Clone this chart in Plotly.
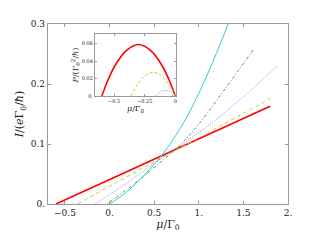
import plotly.graph_objects as go

# Main panel: I vs mu
red_x = [-0.6, 1.8]
red_y = [0.0, 0.163]
yel_x = [-0.36, 0.2, 0.6, 1.12, 1.5, 1.8]
yel_y = [0.0, 0.046, 0.078, 0.12, 0.151, 0.176]
blu_x = [-0.16, 0.2, 0.6, 1.0, 1.4, 1.88]
blu_y = [0.0, 0.036, 0.078, 0.119, 0.166, 0.23]
grn_x = [-0.03, 0.2, 0.47, 0.787, 1.01, 1.3, 1.615]
grn_y = [0.0, 0.025, 0.057, 0.098, 0.135, 0.193, 0.258]
cya_x = [0.0, 0.2, 0.4, 0.6, 0.8, 1.0, 1.2, 1.33]
cya_y = [0.0, 0.021, 0.05, 0.084, 0.128, 0.184, 0.252, 0.3]

# Inset: P vs mu
pr_x = [-0.6, -0.55, -0.5, -0.4, -0.3, -0.2, -0.1, -0.05, 0.0]
pr_y = [0.0, 0.018, 0.033, 0.052, 0.059, 0.052, 0.033, 0.018, 0.0]
py_x = [-0.36, -0.3, -0.24, -0.18, -0.12, -0.06, 0.0]
py_y = [0.0, 0.015, 0.024, 0.027, 0.024, 0.015, 0.0]
pb_x = [-0.16, -0.12, -0.08, -0.04, 0.0]
pb_y = [0.0, 0.0049, 0.0065, 0.0049, 0.0]
pg_x = [-0.03, -0.015, 0.0]
pg_y = [0.0, 0.0005, 0.0]

main_xticks = [-0.5, 0, 0.5, 1, 1.5, 2]
main_xlabels = ["\u22120.5", "0.", "0.5", "1.", "1.5", "2."]
main_yticks = [0, 0.1, 0.2, 0.3]
main_ylabels = ["0.", "0.1", "0.2", "0.3"]
ins_xticks = [-0.5, -0.25, 0]
ins_xlabels = ["\u22120.5", "\u22120.25", "0"]
ins_yticks = [0, 0.02, 0.04, 0.06]
ins_ylabels = ["0.", "0.02", "0.04", "0.06"]

RED = "#ff0000"
YEL = "#cccc33"
BLU = "#7f7fff"
GRN = "#3f9f3f"
CYA = "#33cccc"
FONT = "DejaVu Serif"

fig = go.Figure()
fig.add_trace(go.Scatter(x=red_x, y=red_y, mode="lines", line=dict(color=RED, width=1.6)))
fig.add_trace(go.Scatter(x=yel_x, y=yel_y, mode="lines", line=dict(color=YEL, width=1, dash="4px,3px", shape="spline")))
fig.add_trace(go.Scatter(x=blu_x, y=blu_y, mode="lines", line=dict(color=BLU, width=1, dash="1px,1.5px", shape="spline")))
fig.add_trace(go.Scatter(x=grn_x, y=grn_y, mode="lines", line=dict(color=GRN, width=1, dash="1px,2px,3px,2px", shape="spline")))
fig.add_trace(go.Scatter(x=cya_x, y=cya_y, mode="lines", line=dict(color=CYA, width=1, shape="spline")))

fig.add_trace(go.Scatter(x=pr_x, y=pr_y, mode="lines", xaxis="x2", yaxis="y2", line=dict(color=RED, width=1.6, shape="spline")))
fig.add_trace(go.Scatter(x=py_x, y=py_y, mode="lines", xaxis="x2", yaxis="y2", line=dict(color=YEL, width=1, dash="3px,2px", shape="spline")))
fig.add_trace(go.Scatter(x=pb_x, y=pb_y, mode="lines", xaxis="x2", yaxis="y2", line=dict(color=BLU, width=1, dash="1px,1.5px", shape="spline")))
fig.add_trace(go.Scatter(x=pg_x, y=pg_y, mode="lines", xaxis="x2", yaxis="y2", line=dict(color=GRN, width=1, dash="1px,1.5px", shape="spline")))

axis_common = dict(showgrid=False, zeroline=False, showline=True, linecolor="#999999", linewidth=1.2,
                   mirror="ticks", ticks="inside", tickcolor="#999999", ticklen=3)

# page body has an 8px margin, so the figure is drawn 8px in from the top-left corner
fig.update_layout(
    width=312, height=232,
    margin=dict(l=40, r=32, t=16, b=36),
    paper_bgcolor="white", plot_bgcolor="white",
    showlegend=False,
    font=dict(family=FONT, color="#222222"),
    xaxis=dict(range=[-0.69, 2.0], tickvals=main_xticks, ticktext=main_xlabels,
               tickfont=dict(size=9), title=dict(text="<i>μ</i>/Γ<sub>0</sub>", font=dict(size=11), standoff=2),
               **axis_common),
    yaxis=dict(range=[0, 0.3], tickvals=main_yticks, ticktext=main_ylabels,
               tickfont=dict(size=9), title=dict(text="<i>I</i>/(<i>e</i>Γ<sub>0</sub>/<i>ħ</i>)", font=dict(size=11), standoff=4),
               **axis_common),
    xaxis2=dict(domain=[0.196, 0.533], anchor="y2", range=[-0.655, 0.005], tickvals=ins_xticks, ticktext=ins_xlabels,
                tickfont=dict(size=5), title=dict(text="<i>μ</i>/Γ<sub>0</sub>", font=dict(size=8), standoff=1),
                **{**axis_common, "ticklen": 2}),
    yaxis2=dict(domain=[0.6, 0.944], anchor="x2", range=[0, 0.071], tickvals=ins_yticks, ticktext=ins_ylabels,
                tickfont=dict(size=5), title=dict(text="<i>P</i>/(Γ<sub>0</sub><sup>2</sup>/<i>ħ</i>)", font=dict(size=8), standoff=1),
                **{**axis_common, "ticklen": 2}),
)

fig.write_html("out.html")
